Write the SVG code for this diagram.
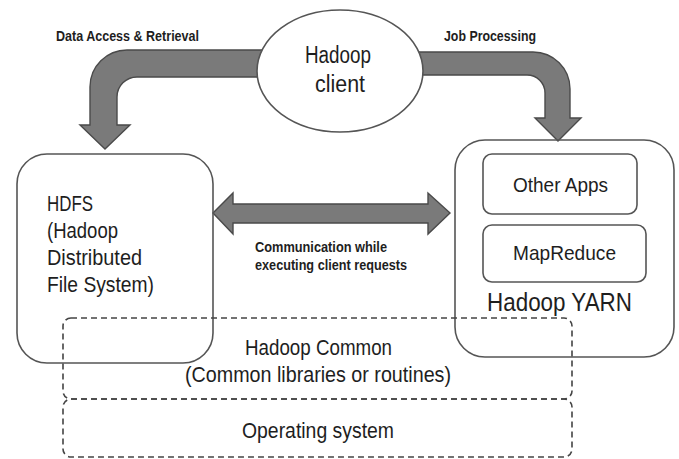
<svg xmlns="http://www.w3.org/2000/svg" width="679" height="459" viewBox="0 0 679 459">
<style>
.box{fill:none;stroke:#555;stroke-width:1.6}
.dash{fill:none;stroke:#444;stroke-width:1.6;stroke-dasharray:6 4}
.arrow{fill:#7a7a7a;stroke:#4a4a4a;stroke-width:1.4;stroke-linejoin:miter}
.t{font-family:"Liberation Sans Narrow","Liberation Sans",Arial,sans-serif;fill:#1e1e1e}
.b{font-family:"Liberation Sans Narrow","Liberation Sans",Arial,sans-serif;font-weight:bold;fill:#1e1e1e}
</style>
<rect width="679" height="459" fill="#ffffff"/>
<g id="connectors">
<path class="arrow" d="M300 50 L127 50 A37 37 0 0 0 90 87 L90 125 L80 125 L105 149 L130 125 L117 125 L117 97 A20 20 0 0 1 137 77 L300 77 Z"/>
<path class="arrow" d="M380 52 L533 52 A37 37 0 0 1 570 89 L570 118 L581 118 L558 141 L535 118 L545 118 L545 93 A18 18 0 0 0 527 75 L380 75 Z"/>
<path class="arrow" d="M213 213 L233 193 L233 204 L428 204 L428 193 L450 213 L428 234 L428 223 L233 223 L233 234 Z"/>
<text class="b" x="56" y="41" font-size="15.5" textLength="143" lengthAdjust="spacingAndGlyphs">Data Access &amp; Retrieval</text>
<text class="b" x="444" y="41" font-size="15.5" textLength="92" lengthAdjust="spacingAndGlyphs">Job Processing</text>
<text class="b" x="255" y="252" font-size="15.5" textLength="132" lengthAdjust="spacingAndGlyphs">Communication while</text>
<text class="b" x="255" y="270" font-size="15.5" textLength="152" lengthAdjust="spacingAndGlyphs">executing client requests</text>
</g>
<g id="client">
<ellipse cx="340" cy="71" rx="83" ry="61" fill="#ffffff" stroke="#555" stroke-width="1.6"/>
<text class="t" x="305" y="63" font-size="23" textLength="66" lengthAdjust="spacingAndGlyphs">Hadoop</text>
<text class="t" x="315" y="92" font-size="23" textLength="50" lengthAdjust="spacingAndGlyphs">client</text>
</g>
<g id="hdfs">
<rect class="box" x="17" y="154" width="196" height="209" rx="30"/>
<text class="t" x="47" y="211" font-size="22" textLength="46" lengthAdjust="spacingAndGlyphs">HDFS</text>
<text class="t" x="47" y="238" font-size="22" textLength="71" lengthAdjust="spacingAndGlyphs">(Hadoop</text>
<text class="t" x="47" y="265" font-size="22" textLength="95" lengthAdjust="spacingAndGlyphs">Distributed</text>
<text class="t" x="47" y="292" font-size="22" textLength="107" lengthAdjust="spacingAndGlyphs">File System)</text>
</g>
<g id="yarn">
<rect class="box" x="455" y="140" width="219" height="217" rx="30"/>
<text class="t" x="487" y="311" font-size="25" textLength="145" lengthAdjust="spacingAndGlyphs">Hadoop YARN</text>
</g>
<g id="otherapps">
<rect class="box" x="483" y="154" width="154" height="60" rx="9"/>
<text class="t" x="513" y="192" font-size="21" textLength="95" lengthAdjust="spacingAndGlyphs">Other Apps</text>
</g>
<g id="mapreduce">
<rect class="box" x="483" y="225" width="163" height="57" rx="9"/>
<text class="t" x="513" y="260" font-size="21" textLength="103" lengthAdjust="spacingAndGlyphs">MapReduce</text>
</g>
<g id="common">
<rect class="dash" x="63" y="318" width="509" height="81" rx="8"/>
<text class="t" x="245" y="355" font-size="22" textLength="147" lengthAdjust="spacingAndGlyphs">Hadoop Common</text>
<text class="t" x="185" y="382" font-size="22" textLength="266" lengthAdjust="spacingAndGlyphs">(Common libraries or routines)</text>
</g>
<g id="os">
<rect class="dash" x="63" y="399" width="509" height="58" rx="8"/>
<text class="t" x="242" y="438" font-size="22" textLength="152" lengthAdjust="spacingAndGlyphs">Operating system</text>
</g>
</svg>
